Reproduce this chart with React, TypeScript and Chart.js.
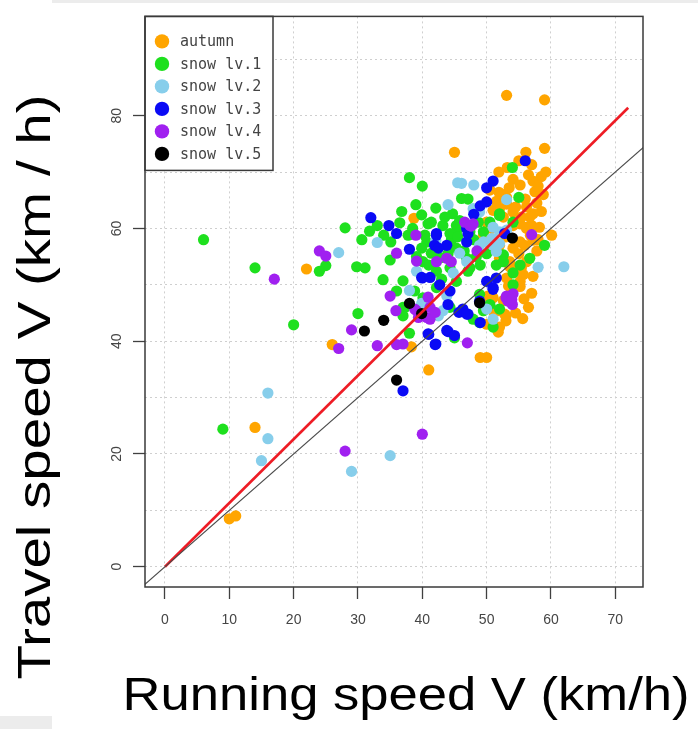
import React, { useEffect, useRef } from 'react';
import { Chart, registerables } from 'chart.js';

Chart.register(...registerables);

// ---------------- data ----------------
const seriesLabels = ['autumn', 'snow lv.1', 'snow lv.2', 'snow lv.3', 'snow lv.4', 'snow lv.5'];
const seriesColors = ['#FFA500', '#1EE01E', '#87CEEB', '#0A0AF5', '#A020F0', '#000000'];

const autumn: number[][] = [
  [10, 8.5], [11, 9.0], [14, 24.7], [22, 52.8], [26, 39.4], [38.3, 39.0], [41, 34.9], [49, 37.1], [50, 37.1],
  [53, 44.5], [53, 43.6], [51.8, 41.6], [52, 42.5], [45, 73.5], [38.7, 61.8], [56.1, 73.5], [59, 74.2], [57, 71.3],
  [51.9, 70], [54.1, 68.7], [55.2, 67.7], [57.2, 68.4], [58.5, 69.2], [51.9, 66.4], [53.1, 65.5], [53.1, 64.3],
  [52, 63.5], [56.2, 63.8], [57.2, 62.6], [51, 63.2], [52.6, 62], [54.1, 62.9], [55.4, 62], [56.7, 62], [60.1, 58.8],
  [57.8, 56], [57.2, 51.5], [53.6, 54.1], [54.6, 52.4], [53.1, 51.2], [55.2, 50.6], [53.9, 48.9], [51, 45.4], [50, 43],
  [49.5, 58.8], [50.8, 60], [50, 61.1], [55.2, 57.6], [56.2, 60], [52, 57], [54.1, 56.5], [55.2, 60.8], [56.2, 60.2],
  [54.1, 60.5], [57.2, 57.9], [55.9, 57], [55.4, 53], [56.2, 54.1], [52, 54.7], [53.6, 53.2], [54.9, 52.4],
  [55.7, 51.8], [55.2, 49.7], [52.8, 44.8], [50.2, 48], [51, 47.7], [51.8, 45.4], [53.1, 83.6], [59, 82.8],
  [53.5, 67.2], [56, 65.2], [57.8, 64.5], [53, 58.5], [55, 55.5], [56.8, 58.8], [54.5, 63.8], [58.2, 60.2],
  [53.4, 49.8], [52.6, 47.2], [57.5, 66.5], [55.8, 47.5], [57, 48.5], [56.5, 46], [54.5, 45], [55.6, 44],
  [58.5, 63], [58.8, 66], [57, 60.5], [58, 58], [53.2, 70.8], [55, 72], [59.2, 70], [56.5, 69.5], [58, 67.5],
  [50.6, 56.2], [51.5, 64.8], [52.5, 66], [50.5, 66.8],
];

const snowLv1: number[][] = [
  [9, 24.4], [20, 42.9], [30, 44.9], [38, 41.4], [45, 40.6], [51, 42.5], [36, 48.9], [37, 46], [6, 58], [14, 53],
  [25, 53.4], [24, 52.4], [28, 60.1], [38, 69], [40, 67.5], [39, 64.2], [42.1, 63.6], [36.8, 63], [39.9, 62.4],
  [31.8, 59.5], [30.6, 58], [35.1, 57.6], [37.8, 58.8], [40.9, 60.8], [40.7, 57.6], [44.5, 57.9], [45.3, 60.5],
  [45.3, 56.5], [54, 70.8], [55, 65.5], [46.1, 65.3], [47.1, 65.2], [52, 62.6], [54.1, 61.1], [29.8, 53.2],
  [31.1, 53], [35, 54.4], [33.9, 50.9], [37, 50.7], [42.2, 52.4], [44.3, 53], [48.9, 48.3], [52, 45.7], [48.9, 43.3],
  [45.3, 50.6], [47.1, 52.4], [50.5, 61.1], [44.7, 62.6], [45.6, 60], [41.4, 61.1], [43.2, 60.5], [44.3, 59.1],
  [40.4, 58.8], [39.9, 56.5], [41.4, 55.6], [39.1, 55], [40.1, 54.1], [46.9, 54.7], [48.4, 55], [47.4, 53],
  [51.5, 53.5], [52.6, 55.3], [59, 57], [56.7, 54.7], [55.2, 53.5], [52, 62.3], [45.8, 61.4], [48.7, 61.1],
  [49.5, 59.4], [47.4, 59.4], [38.8, 48.9], [40.1, 47.7], [42.2, 49.5], [37.3, 46], [37, 44.5], [44.3, 46],
  [54.1, 52.1], [52.6, 54.1], [54.1, 50], [47.9, 43.9], [49.5, 45.4], [50.5, 46.5], [41, 53.5], [43, 51],
  [45.5, 58.5], [46.5, 56], [43.5, 62], [48, 58], [49, 53.5], [50, 55.5], [38.5, 60], [36.5, 61], [34, 58.8],
  [33, 60.5], [44, 55.5], [42.8, 54.8],
];

const snowLv2: number[][] = [
  [16, 22.7], [15, 18.8], [29, 16.9], [35, 19.7], [16, 30.8], [38, 49], [51, 43.9], [27, 55.7], [45.5, 68.1],
  [44, 64.2], [33, 57.5], [46.1, 68], [48, 67.7], [47.9, 63.5], [53.1, 65.1], [39.1, 52.4], [42.1, 57.9], [48.9, 57],
  [50.8, 58.2], [51.5, 55.9], [58, 53.1], [62, 53.2], [50, 45.7], [44.8, 52.1], [48.9, 62.9], [52, 59.4], [45.8, 55.6],
  [46.9, 54.1], [51, 60.2], [53.1, 59.7], [49.5, 57.6], [51, 57], [52, 57.3], [43.8, 48], [42.5, 44.5], [43.2, 45.4],
  [39.9, 46.7],
];

const snowLv3: number[][] = [
  [37, 31.2], [41, 41.2], [42, 39.4], [44, 41.7], [49, 43.3], [46.3, 45.7], [47.1, 44.8], [51, 49.2], [32, 61.9],
  [34.8, 60.5], [36, 59.1], [42.2, 58.8], [41.9, 57], [43.8, 57], [38, 56.3], [56, 72], [51, 68.4], [50, 67.2],
  [50, 64.7], [40, 51.2], [42.2, 59.1], [42.5, 56.5], [46.9, 57.6], [47.1, 59.1], [51, 49.5], [48.9, 47.1],
  [45.7, 45.1], [46.9, 44.8], [50, 50.6], [51.5, 51.2], [46.9, 60], [52.8, 59.1], [39.9, 51.3], [41.2, 51.3],
  [42.7, 50], [44.3, 48.9], [44, 46.5], [43.8, 41.9], [45, 41], [40.9, 41.3], [42.1, 39.5], [48, 62.5], [49, 64],
];

const snowLv4: number[][] = [
  [28, 20.5], [40, 23.5], [29, 42], [27, 38.7], [33, 39.2], [36, 39.4], [37, 39.5], [47, 39.7], [53, 47.7],
  [54, 46.5], [35, 48], [35.9, 45.4], [39.4, 44.2], [41.2, 43.9], [17, 51], [24, 56], [25, 55.1], [39, 58.8],
  [36, 55.6], [38.8, 45.7], [42.2, 54.1], [43.8, 54.7], [47.4, 60.5], [47.9, 60.8], [57, 58.9], [54.1, 48.4],
  [53.3, 47.1], [39.1, 54.2], [44.5, 54.1], [46.6, 61.1], [47.6, 60.4], [40.9, 47.8], [39, 45.5], [40.7, 44.2],
  [41.2, 46], [42, 45.1], [53.1, 48], [53.9, 47.4], [48.5, 56],
];

const snowLv5: number[][] = [
  [31, 41.8], [34, 43.7], [36, 33.1], [38, 46.7], [39.9, 44.9], [48.9, 46.8], [54, 58.3],
];

// reference lines: red fitted line and the V = V identity line
const redLine: number[][] = [[0, 0], [72, 81.4]];
const identityLine: number[][] = [[-10, -10], [90, 90]];

const xTickValues = [0, 10, 20, 30, 40, 50, 60, 70];
const yLabelStep = 20;

const xTitle = 'Running speed V (km/h)';
const yTitle = 'Travel speed V (km / h)';

// ---------------------------------------------------------------
const allSeries = [autumn, snowLv1, snowLv2, snowLv3, snowLv4, snowLv5];
const toXY = (a: number[][]) => a.map(([x, y]) => ({ x, y }));

const decorPlugin = {
  id: 'decor',
  beforeDraw(chart: any) {
    const ctx = chart.ctx;
    ctx.save();
    ctx.fillStyle = '#ececec';
    ctx.fillRect(52, 0, 646, 3);
    ctx.fillRect(0, 716, 52, 13);
    ctx.restore();
  },
  afterDraw(chart: any) {
    const ctx = chart.ctx;
    const a = chart.chartArea;
    ctx.save();
    // legend box
    const lx = a.left, ly = a.top, lw = 128, lh = 154;
    ctx.fillStyle = '#ffffff';
    ctx.fillRect(lx, ly, lw, lh);
    ctx.strokeStyle = '#3a3a3a';
    ctx.lineWidth = 1.5;
    ctx.strokeRect(lx, ly, lw, lh);
    ctx.font = '15px "DejaVu Sans Mono"';
    ctx.textBaseline = 'middle';
    ctx.textAlign = 'left';
    seriesLabels.forEach((lab, i) => {
      const cy = ly + 25 + i * 22.5;
      ctx.beginPath();
      ctx.arc(lx + 17, cy, 7.2, 0, Math.PI * 2);
      ctx.fillStyle = seriesColors[i];
      ctx.fill();
      ctx.fillStyle = '#444444';
      ctx.fillText(lab, lx + 35, cy + 1);
    });
    // plot frame
    ctx.strokeStyle = '#3a3a3a';
    ctx.lineWidth = 1.5;
    ctx.strokeRect(a.left, a.top, a.right - a.left, a.bottom - a.top);

    // axis titles
    ctx.fillStyle = '#000000';
    ctx.font = '47px "Liberation Sans", Arial, sans-serif';
    ctx.textBaseline = 'alphabetic';
    ctx.textAlign = 'center';
    const xw = ctx.measureText(xTitle).width;
    ctx.save();
    ctx.translate(406, 710);
    ctx.scale(567 / xw, 1);
    ctx.fillText(xTitle, 0, 0);
    ctx.restore();

    ctx.font = '46px "Liberation Sans", Arial, sans-serif';
    const yw = ctx.measureText(yTitle).width;
    ctx.save();
    ctx.translate(50, 387);
    ctx.rotate(-Math.PI / 2);
    ctx.scale(585 / yw, 1);
    ctx.fillText(yTitle, 0, 0);
    ctx.restore();
    ctx.restore();
  },
};

export default function App() {
  const ref = useRef<HTMLCanvasElement>(null);
  useEffect(() => {
    document.body.style.margin = '0';
    const pointSets = allSeries.map((s, i) => ({
      type: 'scatter' as const,
      label: seriesLabels[i],
      data: toXY(s),
      backgroundColor: seriesColors[i],
      borderWidth: 0,
      pointRadius: 5.6,
      pointHoverRadius: 5.6,
      order: 6 - i,
    }));
    const lineSets = [
      {
        type: 'line' as const,
        label: 'identity',
        data: toXY(identityLine),
        borderColor: '#4a4a4a',
        borderWidth: 1.2,
        pointRadius: 0,
        showLine: true,
        fill: false,
        order: 0,
      },
      {
        type: 'line' as const,
        label: 'fit',
        data: toXY(redLine),
        borderColor: '#EE1C25',
        borderWidth: 2.6,
        pointRadius: 0,
        showLine: true,
        fill: false,
        order: 0,
      },
    ];
    const gridCommon = {
      color: '#cfcfcf',
      lineWidth: 1,
      tickLength: 12,
      tickWidth: 1.3,
    };
    const chart = new Chart(ref.current as HTMLCanvasElement, {
      type: 'scatter',
      data: { datasets: [...lineSets, ...pointSets] as any },
      plugins: [decorPlugin],
      options: {
        animation: false,
        responsive: false,
        maintainAspectRatio: false,
        events: [],
        layout: { padding: { top: 8, right: 55, left: 0, bottom: 0 } },
        plugins: { legend: { display: false }, tooltip: { enabled: false } },
        scales: {
          x: {
            type: 'linear',
            min: -3.1,
            max: 74.3,
            afterFit: (s: any) => { s.height = 142; },
            afterBuildTicks: (s: any) => { s.ticks = xTickValues.map((v) => ({ value: v })); },
            ticks: {
              stepSize: 10,
              includeBounds: false,
              autoSkip: false,
              maxRotation: 0,
              padding: 13,
              color: '#454545',
              font: { family: '"Liberation Sans", Arial, sans-serif', size: 14 },
            },
            grid: { ...gridCommon, tickColor: '#404040' },
            border: { display: false, dash: [2, 3] },
          },
          y: {
            type: 'linear',
            min: -3.6,
            max: 97.6,
            afterFit: (s: any) => { s.width = 145; },
            ticks: {
              stepSize: 10,
              includeBounds: false,
              autoSkip: false,
              minRotation: 90,
              maxRotation: 90,
              crossAlign: 'center',
              padding: 8,
              color: '#454545',
              font: { family: '"Liberation Sans", Arial, sans-serif', size: 14 },
              callback: (v: any) => (Number(v) % yLabelStep === 0 ? String(v) : ''),
            },
            grid: {
              ...gridCommon,
              tickColor: (c: any) => (c.tick && c.tick.value % yLabelStep === 0 ? '#404040' : 'rgba(0,0,0,0)'),
            },
            border: { display: false, dash: [2, 3] },
          },
        },
      } as any,
    });
    return () => chart.destroy();
  }, []);
  return (
    <div style={{ width: 698, height: 729 }}>
      <canvas ref={ref} width={698} height={729} style={{ display: 'block' }} />
    </div>
  );
}
